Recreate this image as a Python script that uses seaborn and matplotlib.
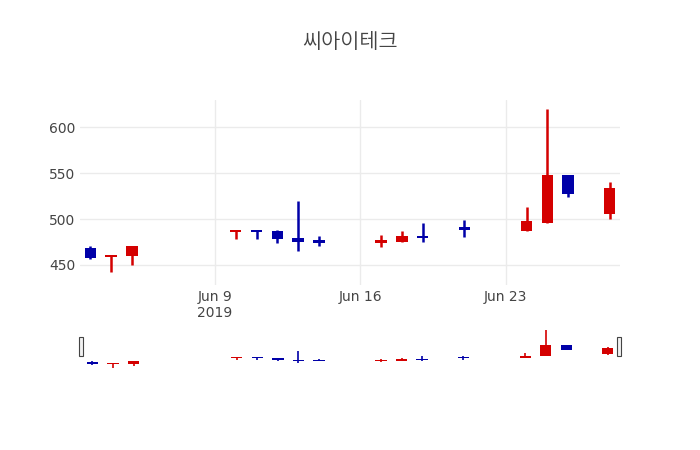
import matplotlib
matplotlib.use("Agg")
import matplotlib.pyplot as plt
import matplotlib.dates as mdates
from matplotlib import font_manager
import pandas as pd
import seaborn as sns

# daily OHLC
dates = ["2019-06-03", "2019-06-04", "2019-06-05", "2019-06-10", "2019-06-11",
         "2019-06-12", "2019-06-13", "2019-06-14", "2019-06-17", "2019-06-18",
         "2019-06-19", "2019-06-21", "2019-06-24", "2019-06-25", "2019-06-26",
         "2019-06-28"]
opens = [468, 459, 460, 486, 488, 487, 479, 477, 474, 475, 482, 491, 487, 496, 548, 505]
highs = [471, 461, 471, 488, 488, 488, 520, 481, 483, 487, 496, 499, 513, 620, 548, 540]
lows = [456, 442, 450, 478, 478, 474, 465, 471, 470, 475, 475, 480, 487, 496, 524, 500]
closes = [457, 461, 471, 488, 486, 478, 475, 474, 477, 482, 479, 488, 498, 548, 527, 534]

UP = "#d40000"
DOWN = "#0000a8"

df = pd.DataFrame({"date": pd.to_datetime(dates), "open": opens, "high": highs,
                   "low": lows, "close": closes})
df["x"] = mdates.date2num(df["date"])
df["color"] = [UP if c >= o else DOWN for o, c in zip(df.open, df.close)]

sns.set_theme(style="whitegrid", rc={"grid.color": "#ebebeb", "axes.edgecolor": "white"})

# find a font with Hangul glyphs
kr_font = None
for f in font_manager.fontManager.ttflist:
    if "CJK" in f.name and ("KR" in f.name or kr_font is None):
        kr_font = f.fname
        if "KR" in f.name:
            break

fig = plt.figure(figsize=(7, 4.5), dpi=100)
ax = fig.add_axes([80 / 700, 1 - 285 / 450, 540 / 700, 185 / 450])
slider = fig.add_axes([80 / 700, 1 - 368 / 450, 540 / 700, 40 / 450])

xmin = mdates.date2num(pd.Timestamp("2019-06-02 12:00"))
xmax = mdates.date2num(pd.Timestamp("2019-06-28 12:00"))


def candles(a, lw, width, minbody):
    a.vlines(df.x, df.low, df.high, colors=df.color, linewidth=lw)
    body = (df.close - df.open).abs().clip(lower=minbody)
    a.bar(df.x, body, bottom=df[["open", "close"]].min(axis=1), width=width,
          color=df.color, linewidth=0)


candles(ax, 1.8, 0.55, 1.8)
ax.set_xlim(xmin, xmax)
ax.set_ylim(428, 630)
ax.set_yticks([450, 500, 550, 600])
ticks = mdates.date2num(pd.to_datetime(["2019-06-09", "2019-06-16", "2019-06-23"]))
ax.set_xticks(ticks)
ax.set_xticklabels(["Jun 9\n2019", "Jun 16", "Jun 23"])
ax.tick_params(labelsize=10, colors="#444444", length=0)
ax.grid(True)
for s in ax.spines.values():
    s.set_visible(False)

candles(slider, 1.2, 0.55, 4)
slider.set_xlim(xmin - 0.1, xmax + 0.1)
slider.set_ylim(440, 630)
slider.set_xticks([])
slider.set_yticks([])
slider.grid(False)
for s in slider.spines.values():
    s.set_visible(False)
for hx in (xmin - 0.05, xmax + 0.05):
    slider.add_patch(plt.Rectangle((hx - 0.08, 495), 0.16, 90, facecolor="#f2f2f2",
                                   edgecolor="#444444", linewidth=0.8, clip_on=False))

title_kw = {"fname": kr_font} if kr_font else {"family": "Noto Sans CJK KR"}
fig.text(0.5, 1 - 42 / 450, "씨아이테크", ha="center", va="center", fontsize=15,
         color="#444444", fontproperties=font_manager.FontProperties(size=15, **title_kw))

fig.savefig("out.png", dpi=100)
